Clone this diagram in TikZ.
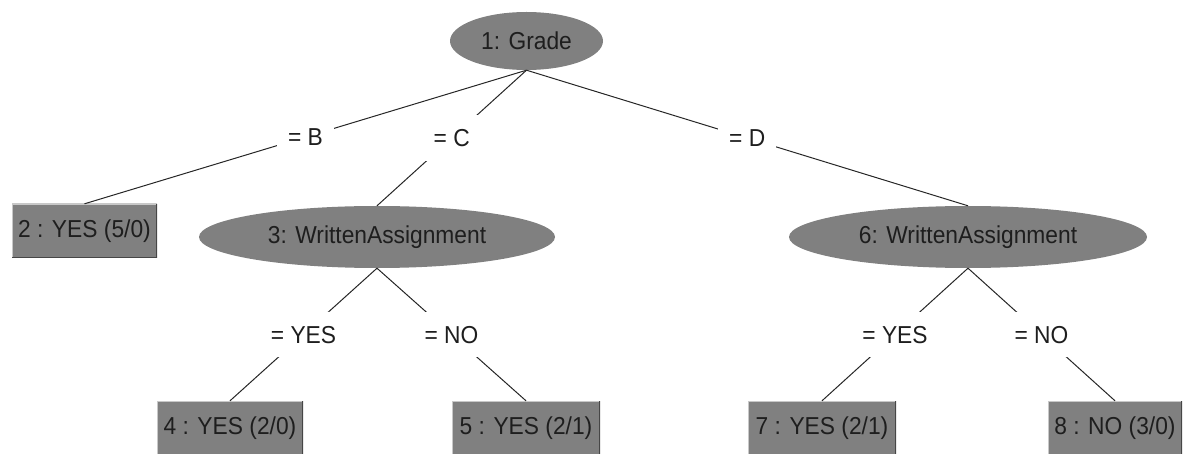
\documentclass[tikz,border=0pt]{standalone}
\usepackage{fontspec}
\setmainfont[FakeStretch=0.93]{Liberation Sans}
\usetikzlibrary{shapes.geometric}
\definecolor{nodegray}{RGB}{128,128,128}
\definecolor{rimlight}{RGB}{200,200,200}
\definecolor{rimdark}{RGB}{70,70,70}
\definecolor{inkgray}{RGB}{30,30,30}
\begin{document}
\begin{tikzpicture}[x=1pt,y=-1pt,
  every node/.style={font=\fontsize{24.5}{28}\selectfont, text=inkgray},
  split/.style={ellipse, fill=nodegray, inner sep=0pt},
  leaf/.style={rectangle, fill=nodegray, minimum height=54pt, inner sep=0pt,
    path picture={
      \draw[rimlight, line width=2pt] (path picture bounding box.south west)
        |- (path picture bounding box.north east);
      \draw[rimdark, line width=2pt] (path picture bounding box.south west)
        -| (path picture bounding box.north east);
    }},
  lbl/.style={fill=white, inner xsep=11pt, inner ysep=14pt,
    text height=17.5pt, text depth=0pt},
  branch/.style={line width=1pt, draw=black!85}]
\useasboundingbox (0,0) rectangle (1183,454);

% decision nodes
\node[split, minimum width=153pt, minimum height=58pt] (grade) at (526.5,41) {1: Grade};
\node[split, minimum width=356pt, minimum height=62pt] (wa3) at (377,237) {3: WrittenAssignment};
\node[split, minimum width=358pt, minimum height=62pt] (wa6) at (968,237) {6: WrittenAssignment};

% leaves
\node[leaf, minimum width=145pt] (l2) at (84.5,231) {2 : YES (5/0)};
\node[leaf, minimum width=146pt] (l4) at (230,428) {4 : YES (2/0)};
\node[leaf, minimum width=148pt] (l5) at (526,428) {5 : YES (2/1)};
\node[leaf, minimum width=148pt] (l7) at (822,428) {7 : YES (2/1)};
\node[leaf, minimum width=134pt] (l8) at (1115,428) {8 : NO (3/0)};

% branches with their test values
\draw[branch] (grade.south) -- node[lbl] {= B} (l2.north);
\draw[branch] (grade.south) -- node[lbl] {= C} (wa3.north);
\draw[branch] (grade.south) -- node[lbl] {= D} (wa6.north);
\draw[branch] (wa3.south) -- node[lbl] {= YES} (l4.north);
\draw[branch] (wa3.south) -- node[lbl] {= NO} (l5.north);
\draw[branch] (wa6.south) -- node[lbl] {= YES} (l7.north);
\draw[branch] (wa6.south) -- node[lbl] {= NO} (l8.north);
\end{tikzpicture}
\end{document}
